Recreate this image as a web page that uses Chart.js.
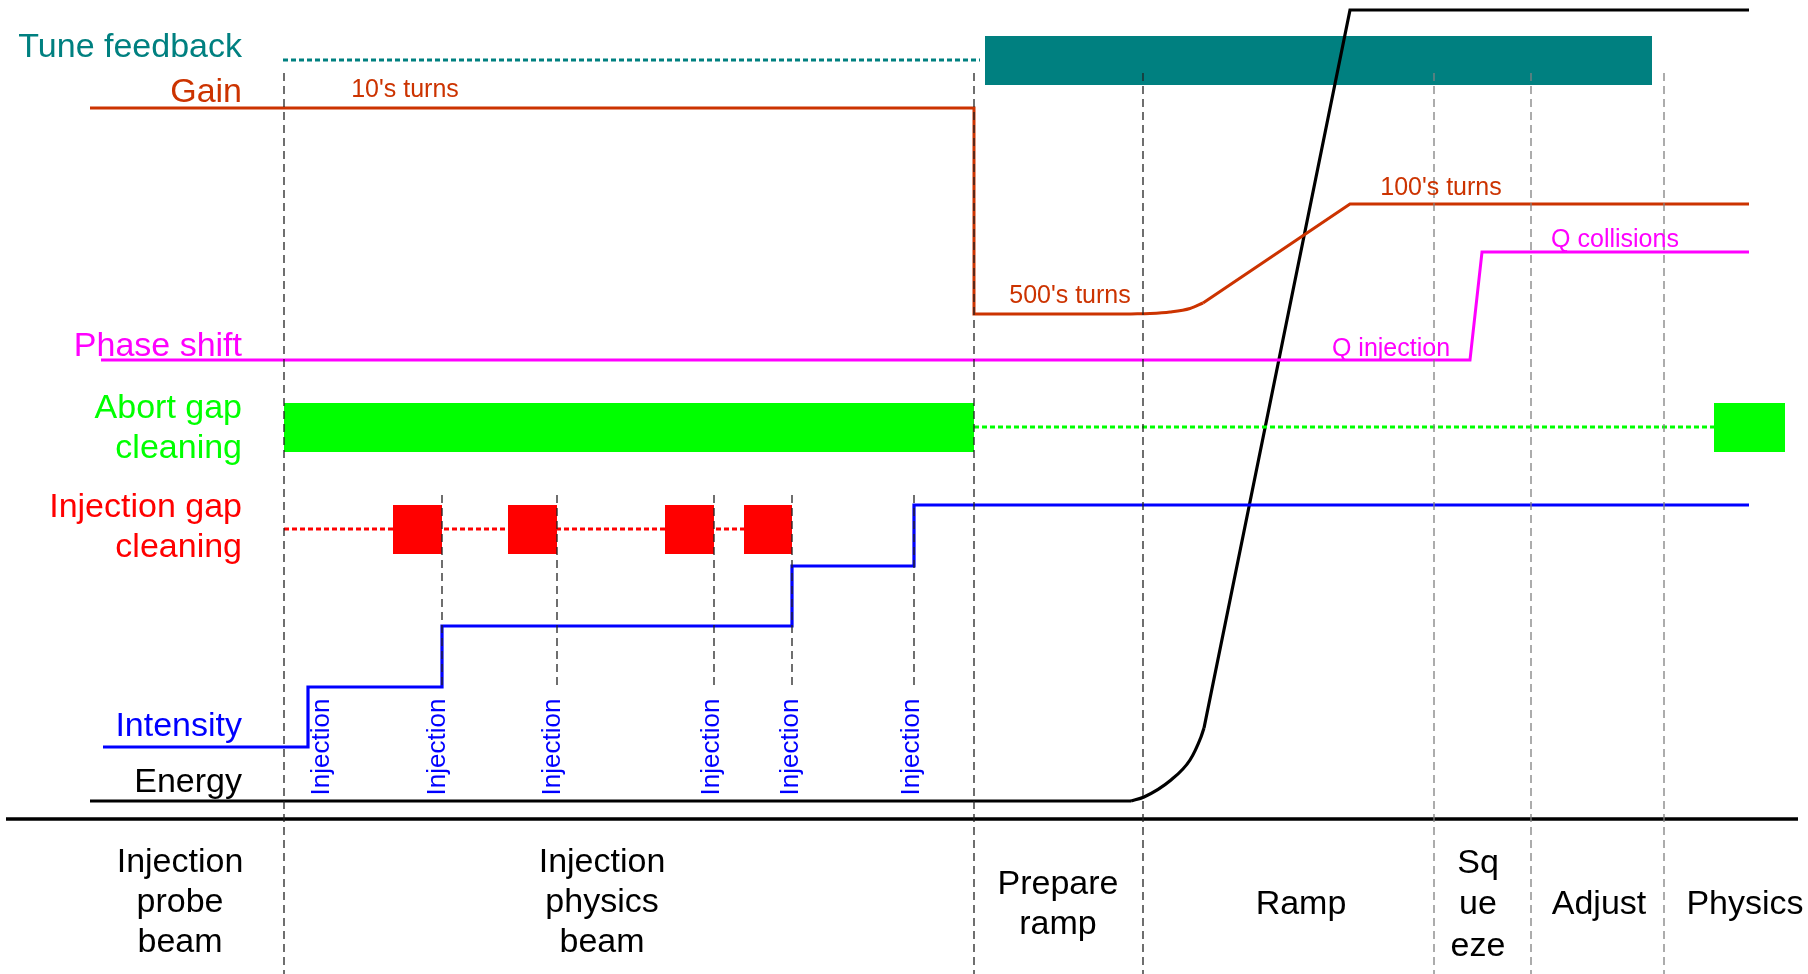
<!DOCTYPE html>
<html>
<head>
<meta charset="utf-8">
<title>Tune feedback over the machine cycle</title>
<script src="https://cdn.jsdelivr.net/npm/chart.js@4.4.1/dist/chart.umd.min.js"></script>
<style>
  html, body { margin: 0; padding: 0; background: #fff; }
  canvas { display: block; }
</style>
</head>
<body>
<canvas id="cycleChart" width="1808" height="974"></canvas>
<script>

// phase boundaries and injections
const phaseEdges = [284, 974, 1143, 1434, 1531, 1664];
const injectionTimes = [442, 557, 714, 792, 914];

// gain: flat, drop, flat, soft knee, ramp, flat
const gainX = [90, 974, 974, 1131];
const gainY = [108, 108, 314, 314];
const gainKneeX = [1131, 1150, 1170, 1190, 1203];
const gainKneeY = [314, 313.5, 312, 308.5, 303];
const gainRampX = [1203, 1350, 1749];
const gainRampY = [303, 204, 204];

// phase shift
const phaseX = [101, 1470, 1482, 1749];
const phaseY = [360, 360, 252, 252];

// intensity steps
const intensityX = [103, 308, 308, 442, 442, 792, 792, 914, 914, 1749];
const intensityY = [747, 747, 687, 687, 626, 626, 566, 566, 505, 505];

// energy: injection plateau, parabolic start, linear ramp, flat top
const energyX = [90, 1131];
const energyY = [801, 801];
const energyKneeX = [1131, 1144, 1171, 1190, 1201, 1204];
const energyKneeY = [801, 797, 780, 760, 737, 728];
const energyRampX = [1204, 1350, 1749];
const energyRampY = [728, 10, 10];

// tune feedback: off (dotted) then on (bar)
const tuneOffX = [283, 980];
const tuneOnStart = [985];
const tuneOnEnd = [1652];

// abort gap cleaning
const abortOnStart = [284, 1714];
const abortOnEnd = [974, 1785];
const abortOffX = [974, 1714];

// injection gap cleaning
const injGapOffX = [284, 744];
const injGapOnStart = [393, 508, 665, 744];
const injGapOnEnd = [442, 557, 714, 792];

// texts
const rowLabels = ['Tune feedback', 'Gain', 'Phase shift', 'Abort gap', 'cleaning',
  'Injection gap', 'cleaning', 'Intensity', 'Energy'];
const noteLabels = ["10's turns", "500's turns", "100's turns", 'Q injection', 'Q collisions'];
const injectionLabelX = [322, 438, 553, 712, 791, 912];
const phaseNames = [['Injection', 'probe', 'beam'], ['Injection', 'physics', 'beam'],
  ['Prepare', 'ramp'], ['Ramp'], ['Sq', 'ue', 'eze'], ['Adjust'], ['Physics']];
const phaseNameX = [180, 602, 1058, 1301, 1478, 1599, 1745];

const TEAL = '#008080', GAIN = '#CC3300', MAGENTA = '#FF00FF',
  GREEN = '#00FF00', RED = '#FF0000', BLUE = '#0000FF';

const pts = (xs, ys) => xs.map((x, i) => ({ x: x, y: ys[i] }));

function line(xs, ys, color, width, extra) {
  return Object.assign({
    data: pts(xs, ys),
    borderColor: color,
    borderWidth: width,
    showLine: true,
    pointRadius: 0,
    fill: false,
    tension: 0,
    order: 5
  }, extra || {});
}

function flat(xs, level, color, width, extra) {
  return line(xs, xs.map(() => level), color, width, extra);
}

function block(x0, x1, top, bottom, color) {
  return {
    data: [{ x: x0, y: top }, { x: x1, y: top }],
    borderColor: 'rgba(0,0,0,0)',
    borderWidth: 0,
    backgroundColor: color,
    fill: { value: bottom },
    showLine: true,
    pointRadius: 0,
    order: 10
  };
}

const datasets = [];

// on/off bars
datasets.push(flat(tuneOffX, 60, TEAL, 3, { borderDash: [5, 3] }));
tuneOnStart.forEach((s, i) => datasets.push(block(s, tuneOnEnd[i], 36, 85, TEAL)));
abortOnStart.forEach((s, i) => datasets.push(block(s, abortOnEnd[i], 403, 452, GREEN)));
datasets.push(flat(abortOffX, 427, GREEN, 3, { borderDash: [5, 3] }));
datasets.push(flat(injGapOffX, 529, RED, 3, { borderDash: [5, 3] }));
injGapOnStart.forEach((s, i) => datasets.push(block(s, injGapOnEnd[i], 505, 554, RED)));

// signals
datasets.push(line(gainX, gainY, GAIN, 3));
datasets.push(line(gainKneeX, gainKneeY, GAIN, 3, { cubicInterpolationMode: 'monotone' }));
datasets.push(line(gainRampX, gainRampY, GAIN, 3));
datasets.push(line(phaseX, phaseY, MAGENTA, 3));
datasets.push(line(intensityX, intensityY, BLUE, 3.2));
datasets.push(line(energyX, energyY, '#000', 3.2));
datasets.push(line(energyKneeX, energyKneeY, '#000', 3.2, { cubicInterpolationMode: 'monotone' }));
datasets.push(line(energyRampX, energyRampY, '#000', 3.2));

// time axis
datasets.push(flat([6, 1798], 819, '#000', 3.5));

// phase boundaries and injection markers
phaseEdges.forEach((x, i) => datasets.push(line([x, x], [73, 974], i < 3 ? '#222' : '#808080', 1.3,
  { borderDash: [8, 5], order: 1 })));
injectionTimes.forEach(x => datasets.push(line([x, x], [495, 687], '#222', 1.3,
  { borderDash: [8, 5], order: 1 })));

const FONT = '"Liberation Sans", Arial, Helvetica, sans-serif';

const textPlugin = {
  id: 'cycleText',
  afterDatasetsDraw(chart) {
    const { ctx } = chart;
    const px = v => chart.scales.x.getPixelForValue(v);
    const py = v => chart.scales.y.getPixelForValue(v);
    ctx.save();
    ctx.textBaseline = 'middle';

    // row names, right aligned against the start of the cycle
    const rowY = [48, 93, 347, 409, 449, 508, 548, 727, 783];
    const rowColor = [TEAL, GAIN, MAGENTA, GREEN, GREEN, RED, RED, BLUE, '#000'];
    ctx.font = '34px ' + FONT;
    ctx.textAlign = 'right';
    rowLabels.forEach((t, i) => {
      ctx.fillStyle = rowColor[i];
      ctx.fillText(t, px(242), py(rowY[i]));
    });

    // small notes on the curves
    const noteX = [405, 1070, 1441, 1391, 1615];
    const noteY = [90, 296, 188, 349, 240];
    const noteColor = [GAIN, GAIN, GAIN, MAGENTA, MAGENTA];
    ctx.font = '25px ' + FONT;
    ctx.textAlign = 'center';
    noteLabels.forEach((t, i) => {
      ctx.fillStyle = noteColor[i];
      ctx.fillText(t, px(noteX[i]), py(noteY[i]));
    });

    // vertical "Injection" markers
    ctx.font = '26px ' + FONT;
    ctx.fillStyle = BLUE;
    injectionLabelX.forEach(x => {
      ctx.save();
      ctx.translate(px(x), py(747));
      ctx.rotate(-Math.PI / 2);
      ctx.fillText('Injection', 0, 0);
      ctx.restore();
    });

    // phase names under the axis
    ctx.font = '34px ' + FONT;
    ctx.fillStyle = '#000';
    phaseNames.forEach((lines, i) => {
      const squeeze = i === 4;
      const step = squeeze ? 41.5 : 40;
      const mid = lines.length === 3 && !squeeze ? 903 : 905;
      const y0 = mid - (lines.length - 1) * step / 2;
      lines.forEach((t, j) => ctx.fillText(t, px(phaseNameX[i]), py(y0 + j * step)));
    });
    ctx.restore();
  }
};

new Chart(document.getElementById('cycleChart'), {
  type: 'scatter',
  data: { datasets: datasets },
  options: {
    responsive: false,
    animation: false,
    devicePixelRatio: 1,
    events: [],
    layout: { padding: 0 },
    plugins: {
      legend: { display: false },
      tooltip: { enabled: false }
    },
    scales: {
      x: { type: 'linear', min: 0, max: 1808, display: false },
      y: { type: 'linear', min: 0, max: 974, reverse: true, display: false }
    }
  },
  plugins: [textPlugin]
});
</script>
</body>
</html>
